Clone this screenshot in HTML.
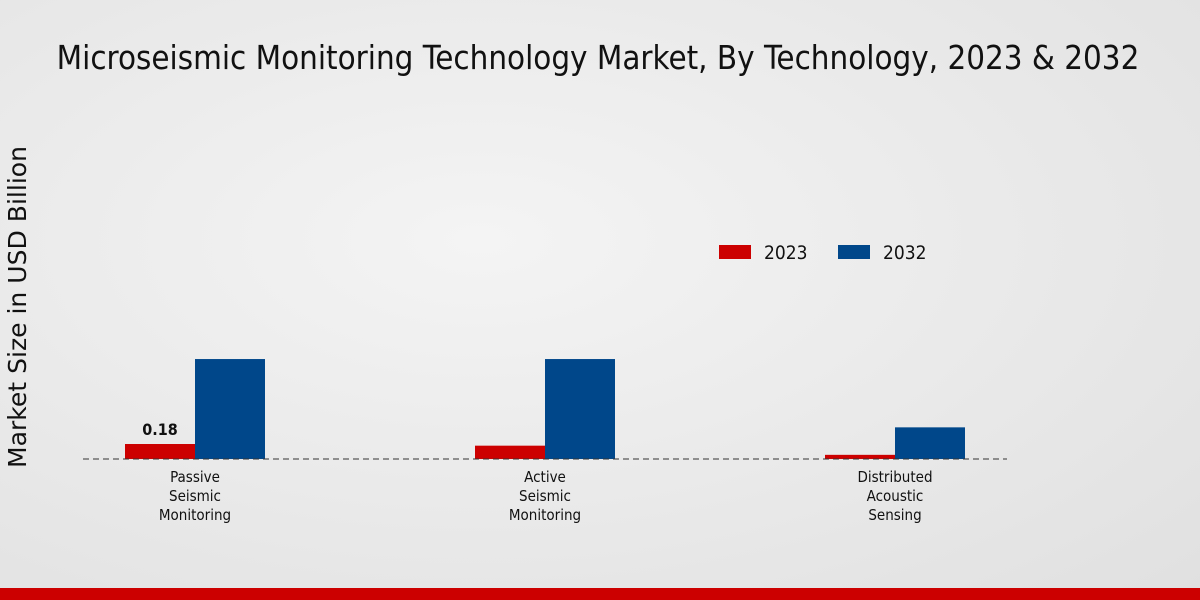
<!DOCTYPE html>
<html><head><meta charset="utf-8"><style>
body{margin:0;width:1200px;height:600px;overflow:hidden;background:radial-gradient(ellipse at 40% 40%,#f4f4f4 0%,#e6e6e6 70%,#e0e0e0 100%);font-family:"DejaVu Sans Condensed","DejaVu Sans","Liberation Sans",sans-serif;font-stretch:condensed}
</style></head><body>
<svg width="1200" height="600" style="position:absolute;left:0;top:0">
<text x="598" y="69" text-anchor="middle" font-size="32.8" fill="#111">Microseismic Monitoring Technology Market, By Technology, 2023 &amp; 2032</text>
<text transform="translate(26,307) rotate(-90)" text-anchor="middle" font-size="24.5" fill="#111" style="font-family:'DejaVu Sans',sans-serif;font-stretch:normal" textLength="322" lengthAdjust="spacingAndGlyphs">Market Size in USD Billion</text>
<g id="bars"></g>
<line x1="83" y1="459" x2="1007" y2="459" stroke="#333" stroke-dasharray="6,4"/>
<g>
<rect x="719" y="245" width="32" height="14" fill="#cc0000"/>
<text x="764" y="259" font-size="19" fill="#111">2023</text>
<rect x="838" y="245" width="32" height="14" fill="#00478a"/>
<text x="883" y="259" font-size="19" fill="#111">2032</text>
</g>
<g id="labels"></g>
<rect x="0" y="588" width="1200" height="12" fill="#cc0000"/>
</svg>
<script>
const categories=[["Passive","Seismic","Monitoring"],["Active","Seismic","Monitoring"],["Distributed","Acoustic","Sensing"]];
const values2023=[0.18,0.16,0.05];
const values2032=[1.2,1.2,0.38];
const valueLabels=["0.18",null,null];
const ns="http://www.w3.org/2000/svg";
const base=459,scale=83.3;
const y=v=>base-v*scale;
const xc=i=>195+i*350;
const bars=document.getElementById('bars'),labs=document.getElementById('labels');
function rect(x,v,fill,name){const r=document.createElementNS(ns,'rect');r.setAttribute('x',x);r.setAttribute('y',y(v));r.setAttribute('width',70);r.setAttribute('height',base-y(v));r.setAttribute('fill',fill);


bars.appendChild(r);}
categories.forEach((c,i)=>{
rect(xc(i)-70,values2023[i],'#cc0000','bar-2023-'+i);
rect(xc(i),values2032[i],'#00478a','bar-2032-'+i);
c.forEach((l,j)=>{const t=document.createElementNS(ns,'text');t.setAttribute('x',xc(i));t.setAttribute('y',482+j*19);t.setAttribute('text-anchor','middle');t.setAttribute('font-size','15');t.setAttribute('fill','#111');t.textContent=l;


labs.appendChild(t);});
if(valueLabels[i]){const t=document.createElementNS(ns,'text');t.setAttribute('x',xc(i)-35);t.setAttribute('y',y(values2023[i])-9);t.setAttribute('text-anchor','middle');t.setAttribute('font-size','16');t.setAttribute('font-weight','bold');t.setAttribute('fill','#111');t.textContent=valueLabels[i];


labs.appendChild(t);}
});
</script>
</body></html>
